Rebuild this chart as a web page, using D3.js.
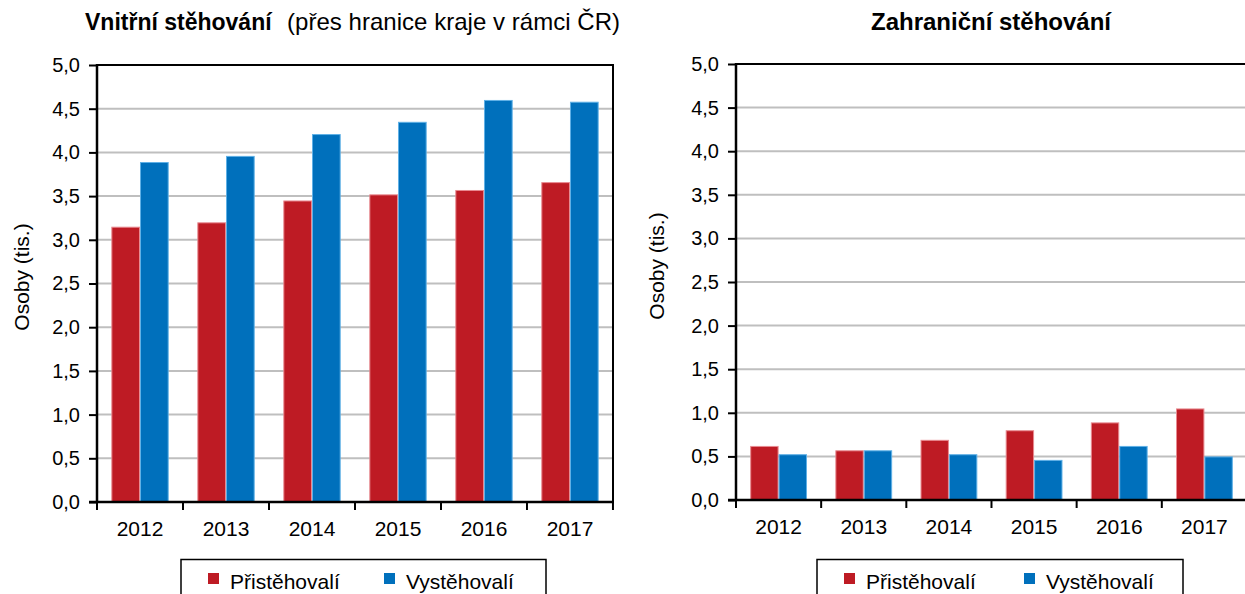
<!DOCTYPE html>
<html>
<head>
<meta charset="utf-8">
<script src="https://cdn.jsdelivr.net/npm/d3@7/dist/d3.min.js"></script>
<style>
    body { margin: 0; background: #fff; }
    svg { display: block; font-family: "Liberation Sans", Arial, sans-serif; }
</style>
</head>
<body>
<div id="chart"></div>
<script>
// data
var years = ['2012', '2013', '2014', '2015', '2016', '2017'];
var seriesNames = ['Přistěhovalí', 'Vystěhovalí'];
var innerIn = [3.15, 3.20, 3.45, 3.52, 3.57, 3.66];
var innerOut = [3.89, 3.96, 4.21, 4.35, 4.60, 4.58];
var foreignIn = [0.62, 0.57, 0.69, 0.80, 0.89, 1.05];
var foreignOut = [0.525, 0.57, 0.525, 0.46, 0.62, 0.50];
var yTicks = [0, 0.5, 1, 1.5, 2, 2.5, 3, 3.5, 4, 4.5, 5];

var colors = ['#be1b24', '#0070bc'];
var strokes = ['#e88a90', '#5fb0e6'];

var svg = d3.select('#chart')
    .append('svg')
    .attr('width', 1245)
    .attr('height', 594);

var fmt = function (d) {
    return d3.format('.1f')(d).replace('.', ',');
};

function panel(cfg) {
    var x = d3.scaleBand()
        .domain(years)
        .range([cfg.left, cfg.right])
        .paddingInner(0.333)
        .paddingOuter(0.1667);
    var xs = d3.scaleBand()
        .domain([0, 1])
        .range([0, x.bandwidth()]);
    var y = d3.scaleLinear()
        .domain([0, 5])
        .range([cfg.bottom, cfg.top]);

    var g = svg.append('g');

    // grid lines
    g.selectAll('.grid')
        .data(yTicks.filter(function (d) { return d > 0 && d < 5; }))
        .enter()
        .append('line')
        .attr('x1', cfg.left)
        .attr('x2', cfg.right)
        .attr('y1', function (d) { return y(d); })
        .attr('y2', function (d) { return y(d); })
        .style('stroke', '#bfbfbf')
        .style('stroke-width', 2);

    // bars
    var series = [cfg.inVals, cfg.outVals];
    series.forEach(function (vals, s) {
        g.selectAll('.bar' + s)
            .data(vals)
            .enter()
            .append('rect')
            .attr('x', function (d, i) { return x(years[i]) + xs(s) + 0.5; })
            .attr('y', function (d) { return y(d) + 0.5; })
            .attr('width', xs.bandwidth() - 1)
            .attr('height', function (d) { return cfg.bottom - y(d) - 0.5; })
            .style('fill', colors[s])
            .style('stroke', strokes[s])
            .style('stroke-width', 1);
    });

    // frame
    g.append('line')
        .attr('x1', cfg.left).attr('x2', cfg.right + 1)
        .attr('y1', cfg.top).attr('y2', cfg.top)
        .style('stroke', '#000').style('stroke-width', 2);
    if (cfg.rightBorder) {
        g.append('line')
            .attr('x1', cfg.right).attr('x2', cfg.right)
            .attr('y1', cfg.top).attr('y2', cfg.bottom)
            .style('stroke', '#000').style('stroke-width', 2);
    }

    // y axis
    var yAxis = g.append('g')
        .attr('transform', 'translate(' + cfg.left + ',0)')
        .call(d3.axisLeft(y).tickValues(yTicks).tickFormat(fmt).tickSize(8).tickPadding(9));
    yAxis.select('.domain').remove();
    yAxis.selectAll('line').style('stroke', '#000').style('stroke-width', 2);
    yAxis.selectAll('text')
        .style('fill', '#000')
        .style('font-size', '20px')
        .style('font-family', '"Liberation Sans", Arial, sans-serif');
    yAxis.append('line')
        .attr('x1', 0).attr('x2', 0)
        .attr('y1', cfg.top - 1).attr('y2', cfg.bottom + 1)
        .style('stroke', '#000').style('stroke-width', 2.5);

    // x axis
    var xAxis = g.append('g')
        .attr('transform', 'translate(0,' + cfg.bottom + ')')
        .call(d3.axisBottom(x).tickSize(0).tickPadding(19));
    xAxis.select('.domain').remove();
    xAxis.selectAll('text')
        .style('fill', '#000')
        .style('font-size', '21px')
        .style('font-family', '"Liberation Sans", Arial, sans-serif');
    var step = x.step();
    var bounds = d3.range(years.length + 1).map(function (i) {
        return cfg.left + i * step;
    });
    xAxis.selectAll('.sep')
        .data(bounds)
        .enter()
        .append('line')
        .attr('x1', function (d) { return d; })
        .attr('x2', function (d) { return d; })
        .attr('y1', 0).attr('y2', 8)
        .style('stroke', '#000').style('stroke-width', 2);
    xAxis.append('line')
        .attr('x1', cfg.left - 8).attr('x2', cfg.right + 1)
        .attr('y1', 0).attr('y2', 0)
        .style('stroke', '#000').style('stroke-width', 2.5);

    // y label
    svg.append('text')
        .attr('transform', 'translate(' + cfg.yLabelX + ',' + cfg.yLabelY + ') rotate(-90)')
        .attr('text-anchor', 'middle')
        .attr('dy', '0.35em')
        .style('font-size', '21px')
        .text('Osoby (tis.)');

    // legend
    var lg = svg.append('g');
    lg.append('rect')
        .attr('x', cfg.legendX).attr('y', 559.5)
        .attr('width', cfg.legendW).attr('height', 60)
        .style('fill', '#fff')
        .style('stroke', '#000').style('stroke-width', 1.5);
    seriesNames.forEach(function (name, s) {
        var lx = cfg.legendX + cfg.legendItems[s];
        lg.append('rect')
            .attr('x', lx).attr('y', 573)
            .attr('width', 11).attr('height', 11)
            .style('fill', colors[s]);
        lg.append('text')
            .attr('x', lx + 22).attr('y', 589)
            .style('font-size', '21px')
            .text(name);
    });
}

panel({
    left: 97, right: 613, top: 65, bottom: 502,
    inVals: innerIn, outVals: innerOut,
    rightBorder: true,
    yLabelX: 22, yLabelY: 277,
    legendX: 181, legendW: 365, legendItems: [27, 203]
});

panel({
    left: 736, right: 1247, top: 64, bottom: 500,
    inVals: foreignIn, outVals: foreignOut,
    rightBorder: false,
    yLabelX: 657, yLabelY: 266,
    legendX: 817, legendW: 366, legendItems: [27, 207]
});

// titles
var t1 = svg.append('text')
    .attr('x', 85).attr('y', 30)
    .style('font-size', '23px');
t1.append('tspan').style('font-weight', 'bold').text('Vnitřní stěhování');
t1.append('tspan').attr('x', 287).style('font-size', '24px')
    .attr('textLength', 333).attr('lengthAdjust', 'spacing')
    .text('(přes hranice kraje v rámci ČR)');

svg.append('text')
    .attr('x', 991).attr('y', 30)
    .attr('text-anchor', 'middle')
    .style('font-size', '24px')
    .style('font-weight', 'bold')
    .text('Zahraniční stěhování');
</script>
</body>
</html>
